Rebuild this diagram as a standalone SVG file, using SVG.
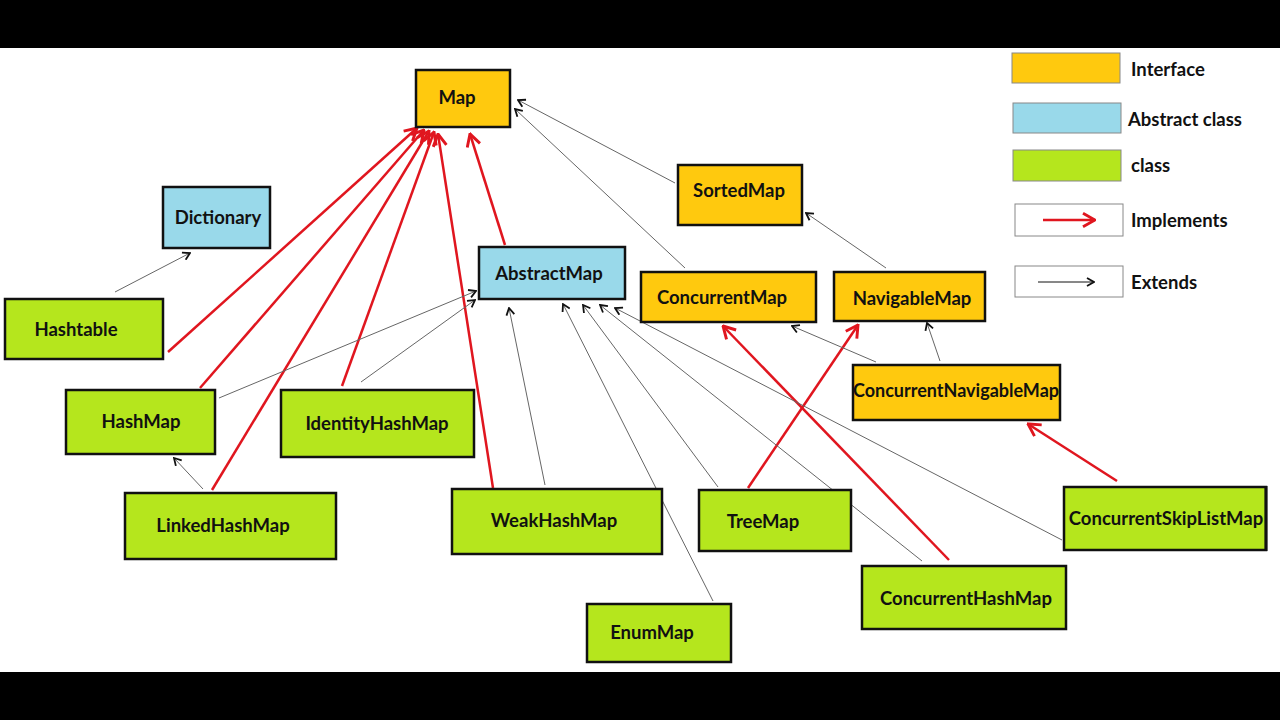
<svg xmlns="http://www.w3.org/2000/svg" width="1280" height="720" viewBox="0 0 1280 720">
<defs>
<style>
.node rect{stroke:#111;stroke-width:2.5}
.iface{fill:#FFC90E}
.abs{fill:#99D9EA}
.cls{fill:#B5E61D}
text{font-family:Lato,"Open Sans","Liberation Sans",sans-serif;font-weight:bold;font-size:18.5px;fill:#111;text-anchor:middle}
.legend text{text-anchor:start;font-size:18.5px}
.legend rect{stroke:#888;stroke-width:1}
.impl{stroke:#E0161F;stroke-width:2.5;fill:none;marker-end:url(#ra)}
.ext{stroke:#666;stroke-width:1;fill:none;marker-end:url(#ba)}
</style>
<marker id="ra" markerUnits="userSpaceOnUse" markerWidth="16" markerHeight="16" viewBox="0 0 12 12" refX="11" refY="6" orient="auto">
<path d="M2,1 L11,6 L2,11" fill="none" stroke="#E0161F" stroke-width="2.2"/>
</marker>
<marker id="ba" markerUnits="userSpaceOnUse" markerWidth="10" markerHeight="10" viewBox="0 0 10 10" refX="9" refY="5" orient="auto">
<path d="M2,1 L9,5 L2,9" fill="none" stroke="#111" stroke-width="1.8"/>
</marker>
</defs>
<rect x="0" y="0" width="1280" height="720" fill="#fff"/>
<rect x="0" y="0" width="1280" height="48" fill="#000"/>
<rect x="0" y="672" width="1280" height="48" fill="#000"/>

<g id="connectors">
<line class="impl" x1="168" y1="352" x2="417" y2="128"/>
<line class="impl" x1="200" y1="388" x2="424" y2="130"/>
<line class="impl" x1="212" y1="490" x2="429" y2="131"/>
<line class="impl" x1="342" y1="386" x2="434" y2="132"/>
<line class="impl" x1="493" y1="488" x2="438" y2="134"/>
<line class="impl" x1="505" y1="245" x2="470" y2="134"/>
<line class="impl" x1="748" y1="488" x2="858" y2="325"/>
<line class="impl" x1="949" y1="560" x2="723" y2="326"/>
<line class="impl" x1="1117" y1="481" x2="1028" y2="424"/>

<line class="ext" x1="115" y1="292" x2="190" y2="253"/>
<line class="ext" x1="219" y1="398" x2="476" y2="291"/>
<line class="ext" x1="361" y1="382" x2="475" y2="300"/>
<line class="ext" x1="203" y1="489" x2="174" y2="458"/>
<line class="ext" x1="545" y1="485" x2="509" y2="308"/>
<line class="ext" x1="713" y1="601" x2="563" y2="304"/>
<line class="ext" x1="718" y1="487" x2="583" y2="305"/>
<line class="ext" x1="922" y1="561" x2="600" y2="305"/>
<line class="ext" x1="1062" y1="540" x2="615" y2="308"/>
<line class="ext" x1="675" y1="183" x2="518" y2="100"/>
<line class="ext" x1="685" y1="268" x2="515" y2="109"/>
<line class="ext" x1="886" y1="268" x2="806" y2="213"/>
<line class="ext" x1="876" y1="362" x2="792" y2="326"/>
<line class="ext" x1="940" y1="361" x2="927" y2="323"/>
</g>

<g id="Map" class="node"><rect class="iface" x="416" y="70" width="94" height="57"/><text x="457" y="104">Map</text></g>
<g id="Dictionary" class="node"><rect class="abs" x="163" y="187" width="107" height="61"/><text x="218" y="224">Dictionary</text></g>
<g id="AbstractMap" class="node"><rect class="abs" x="479" y="247" width="146" height="52"/><text x="549" y="280">AbstractMap</text></g>
<g id="SortedMap" class="node"><rect class="iface" x="678" y="165" width="124" height="60"/><text x="739" y="197">SortedMap</text></g>
<g id="ConcurrentMap" class="node"><rect class="iface" x="641" y="272" width="175" height="50"/><text x="722" y="304">ConcurrentMap</text></g>
<g id="NavigableMap" class="node"><rect class="iface" x="834" y="272" width="151" height="49"/><text x="912" y="305">NavigableMap</text></g>
<g id="ConcurrentNavigableMap" class="node"><rect class="iface" x="853" y="365" width="207" height="55"/><text x="956" y="397" style="font-size:18px">ConcurrentNavigableMap</text></g>
<g id="Hashtable" class="node"><rect class="cls" x="5" y="299" width="158" height="60"/><text x="76" y="336">Hashtable</text></g>
<g id="HashMap" class="node"><rect class="cls" x="66" y="390" width="149" height="64"/><text x="141" y="428">HashMap</text></g>
<g id="IdentityHashMap" class="node"><rect class="cls" x="281" y="390" width="193" height="67"/><text x="377" y="430">IdentityHashMap</text></g>
<g id="LinkedHashMap" class="node"><rect class="cls" x="125" y="493" width="211" height="66"/><text x="223" y="532">LinkedHashMap</text></g>
<g id="WeakHashMap" class="node"><rect class="cls" x="452" y="489" width="210" height="65"/><text x="554" y="527">WeakHashMap</text></g>
<g id="TreeMap" class="node"><rect class="cls" x="699" y="490" width="152" height="61"/><text x="763" y="528">TreeMap</text></g>
<g id="EnumMap" class="node"><rect class="cls" x="587" y="604" width="144" height="58"/><text x="652" y="639">EnumMap</text></g>
<g id="ConcurrentHashMap" class="node"><rect class="cls" x="862" y="566" width="204" height="63"/><text x="966" y="605">ConcurrentHashMap</text></g>
<g id="ConcurrentSkipListMap" class="node"><rect class="cls" x="1064" y="487" width="202" height="63"/><line x1="1266" y1="486" x2="1266" y2="551" stroke="#111" stroke-width="3"/><text x="1166" y="525">ConcurrentSkipListMap</text></g>

<g id="legend" class="legend">
<rect x="1012" y="53" width="108" height="30" fill="#FFC90E"/><text x="1131" y="76">Interface</text>
<rect x="1013" y="103" width="108" height="30" fill="#99D9EA"/><text x="1128" y="126">Abstract class</text>
<rect x="1013" y="150" width="108" height="31" fill="#B5E61D"/><text x="1131" y="172">class</text>
<rect x="1015" y="204" width="108" height="32" fill="#fff"/>
<line x1="1043" y1="220" x2="1095" y2="220" stroke="#E0161F" stroke-width="2.5" marker-end="url(#ra)"/>
<text x="1131" y="227">Implements</text>
<rect x="1015" y="266" width="108" height="31" fill="#fff"/>
<line x1="1038" y1="282" x2="1094" y2="282" stroke="#111" stroke-width="1" marker-end="url(#ba)"/>
<text x="1131" y="289">Extends</text>
</g>
</svg>
